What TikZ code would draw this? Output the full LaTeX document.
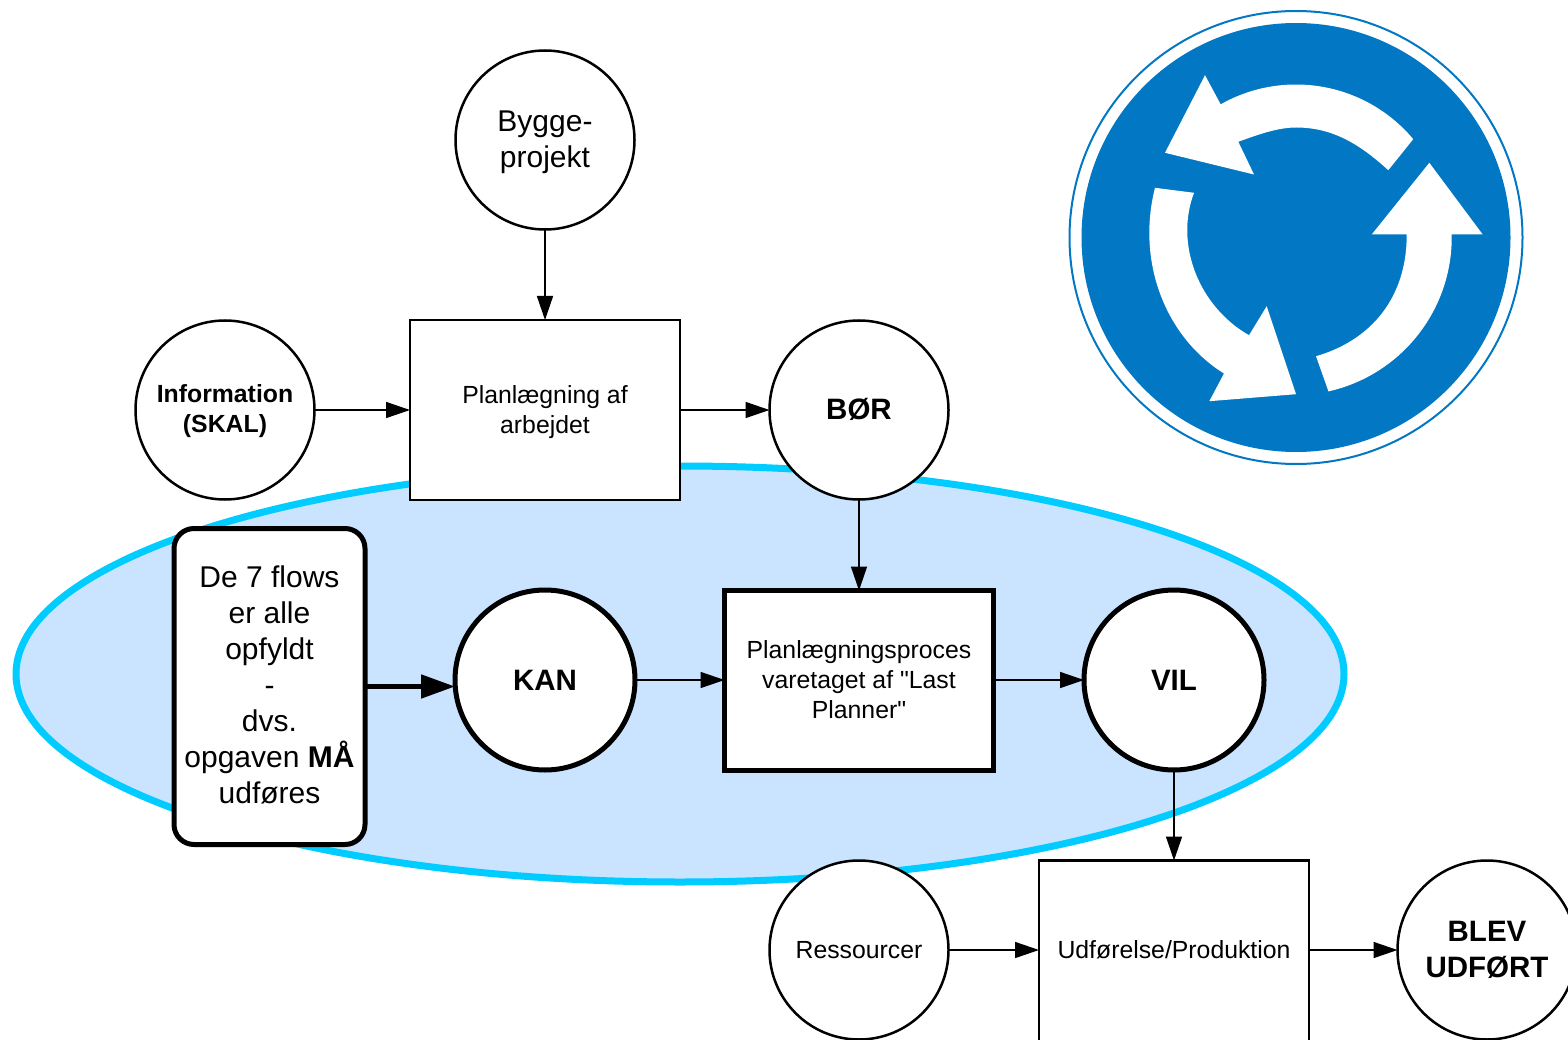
\documentclass[tikz,border=0pt]{standalone}
\usepackage{fontspec}
\setmainfont{Liberation Sans}
\newfontfamily\quotefont{Liberation Sans}
\usetikzlibrary{arrows.meta}
\newcommand{\fontA}{\fontsize{24.8}{30}\selectfont}
\newcommand{\fontB}{\fontsize{30}{36}\selectfont}
\newcommand{\fontC}{\fontsize{29.5}{36}\selectfont\bfseries}
\definecolor{signblue}{HTML}{0277C3}
\definecolor{ellipsefill}{HTML}{CAE4FF}
\definecolor{ellipseline}{HTML}{00CCFF}
\begin{document}
\begin{tikzpicture}[x=1pt,y=1pt]
\tikzstyle{every node}=[inner sep=0pt,outer sep=0pt,align=center,text=black]
\tikzstyle{thinround}=[draw=black,fill=white,circle,minimum size=179pt,line width=2.5pt]
\tikzstyle{thickround}=[thinround,minimum size=180pt,line width=5pt]
\tikzstyle{thinbox}=[draw=black,fill=white,minimum width=270pt,minimum height=180pt,line width=2.5pt]
\tikzstyle{thickbox}=[thinbox,minimum width=269pt,minimum height=180pt,line width=5pt]
\tikzstyle{flowbox}=[draw=black,fill=white,rounded corners=20pt,line width=5pt,minimum width=191pt,minimum height=316pt]
\tikzstyle{thinarrow}=[line width=1.5pt,-{Triangle[length=24pt,width=16pt]}]
\tikzstyle{thickarrow}=[line width=5pt,-{Triangle[length=34pt,width=23pt]}]
\useasboundingbox (0,0) rectangle (1568,-1040);
% ellipse
\draw [ellipseline,fill=ellipsefill,line width=7pt] (680,-674) ellipse (664 and 208);
% sign
\begin{scope}[shift={(1296,-237.5)}]
\draw [signblue,line width=2pt] (0,0) circle (226.5);
\fill [signblue] (0,0) circle (214.5);
\fill [white] (40:153) arc [start angle=40,end angle=119.5,radius=153] -- (-91,162.3) -- (-131,84.7) -- (-42,63) -- (-57.7,95.7) .. controls (-38,103) and (-18,110) .. (0,110) .. controls (35,110) and (62,95) .. (92.3,67.3) -- cycle;
\fill [white] (133.3,74.7) -- (186.7,3) -- (155.7,3) arc [start angle=1,end angle=-77.3,radius=158] -- (20,-118.7) .. controls (75,-103) and (111,-60) .. (110.7,3) -- (75.7,3) -- cycle;
\fill [white] (-141,49.7) .. controls (-160,-25) and (-130,-100) .. (-72,-136) -- (-86.7,-163.7) -- (0,-156.7) -- (-29.3,-68.7) -- (-47,-97.7) .. controls (-96,-70) and (-122,-8) .. (-102,44.7) -- cycle;
\end{scope}
% nodes
\node [thinround,font=\fontB] (bygge) at (545,-140) {\rule{0pt}{25.5pt}Bygge-\\projekt};
\node [thinround,font=\fontA\bfseries] (info) at (225,-410) {\rule{0pt}{21pt}Information\\(SKAL)};
\node [thinbox,font=\fontA] (plan) at (545,-410) {\rule{0pt}{21.5pt}Planlægning af\\arbejdet};
\node [thinround,font=\fontC] (bor) at (859,-410) {BØR\rule[-3pt]{0pt}{3pt}};
\node [thickround,font=\fontC] (kan) at (545,-680) {KAN};
\node [thickbox,font=\fontA] (lastplanner) at (859,-680.5) {Planlægningsproces\\varetaget af {\quotefont"}Last\\Planner{\quotefont"}\rule[-2pt]{0pt}{2pt}};
\node [thickround,font=\fontC] (vil) at (1174,-680) {VIL};
\node [flowbox,font=\fontB] (flows) at (269.5,-686.5) {De 7 flows\\er alle\\opfyldt\\-\\dvs.\\opgaven \textbf{MÅ}\\udføres\rule[-3pt]{0pt}{3pt}};
\node [thinround,font=\fontA] (res) at (859,-950) {Ressourcer};
\node [thinbox,minimum height=182pt,font=\fontA] (prod) at (1174,-951.5) {Udførelse/Produktion\rule[-3pt]{0pt}{3pt}};
\node [thinround,font=\fontC] (blev) at (1487,-950) {BLEV\\UDFØRT};
% arrows
\draw [thinarrow] (bygge) -- (plan);
\draw [thinarrow] (info) -- (plan);
\draw [thinarrow] (plan) -- (bor);
\draw [thinarrow] (bor) -- (lastplanner);
\draw [thinarrow] (kan) -- (lastplanner.west |- kan);
\draw [thinarrow] (lastplanner.east |- vil) -- (vil);
\draw [thinarrow] (vil) -- (prod);
\draw [thinarrow] (res) -- (prod.west |- res);
\draw [thinarrow] (prod.east |- blev) -- (blev);
\draw [thickarrow] (flows.east) -- (kan.west |- flows.east);
\end{tikzpicture}
\end{document}
